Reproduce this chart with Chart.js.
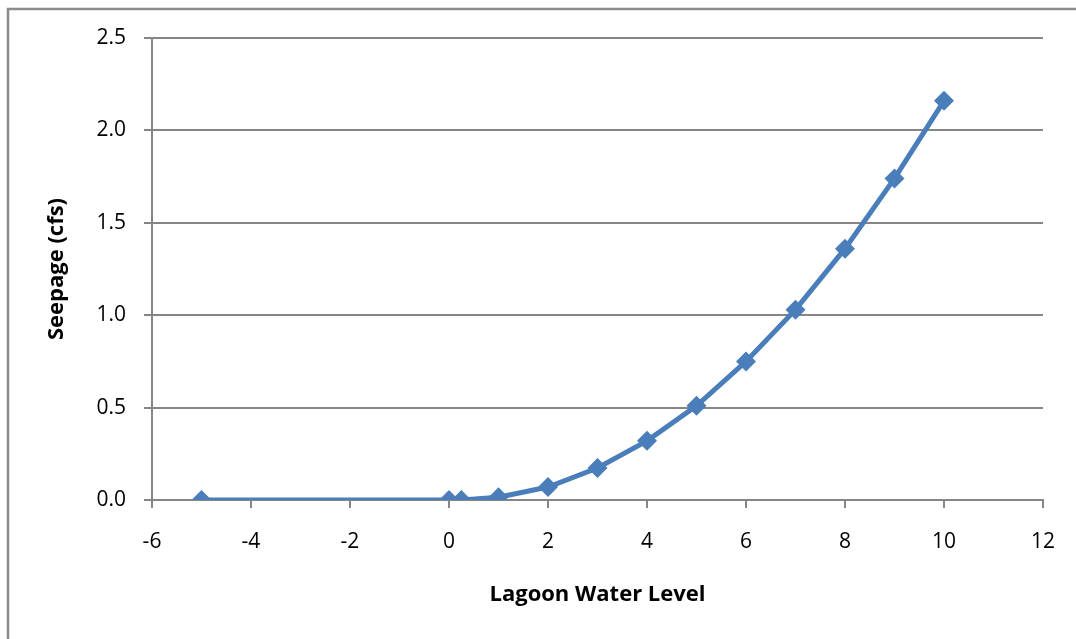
<!DOCTYPE html>
<html>
<head>
<meta charset="utf-8">
<script src="https://cdn.jsdelivr.net/npm/chart.js@4/dist/chart.umd.min.js"></script>
<style>
  html, body { margin: 0; padding: 0; background: #fff; }
  #wrap { width: 1076px; height: 639px; }
</style>
</head>
<body>
<div id="wrap"><canvas id="seepage-chart" width="1076" height="639"></canvas></div>
<script>
const levels = [-5, 0, 0.25, 1, 2, 3, 4, 5, 6, 7, 8, 9, 10];   // lagoon water level
const seepage = [0, 0, 0, 0.015, 0.07, 0.173, 0.32, 0.51, 0.75, 1.03, 1.36, 1.74, 2.16]; // cfs
const xTitle = "Lagoon Water Level";
const yTitle = "Seepage (cfs)";

const points = levels.map((x, i) => ({ x: x, y: seepage[i] }));
const blue = "rgb(74, 126, 187)";
const gridGray = "rgb(134, 134, 134)";

// outer frame like the excel chart border
const framePlugin = {
    id: "frame",
    beforeDraw(chart) {
        const ctx = chart.ctx;
        ctx.save();
        ctx.strokeStyle = "rgb(140, 140, 140)";
        ctx.lineWidth = 2.5;
        ctx.strokeRect(8, 9, 1200, 800);
        ctx.restore();
    }
};

new Chart("seepage-chart", {
    type: "scatter",
    data: {
        datasets: [{
            label: yTitle,
            data: points,
            showLine: true,
            borderColor: blue,
            backgroundColor: blue,
            borderWidth: 5,
            pointStyle: "rectRot",
            pointRadius: 10,
            pointBorderWidth: 0,
            pointHoverRadius: 10
        }]
    },
    options: {
        responsive: false,
        animation: false,
        layout: { padding: { left: 0, right: 27, top: 38, bottom: 0 } },
        plugins: {
            legend: { display: false },
            tooltip: { enabled: false }
        },
        scales: {
            x: {
                type: "linear",
                min: -6,
                max: 12,
                afterFit: (s) => { s.height = 139; },
                ticks: {
                    stepSize: 2,
                    color: "#000",
                    padding: 21,
                    font: { family: "Open Sans", size: 21 }
                },
                grid: {
                    drawOnChartArea: false,
                    drawTicks: true,
                    tickLength: 8,
                    color: gridGray,
                    lineWidth: 2
                },
                border: { color: gridGray, width: 2 },
                title: {
                    display: true,
                    text: xTitle,
                    color: "#000",
                    padding: { top: 0, bottom: 31 },
                    font: { family: "Open Sans", size: 22, weight: "bold" }
                }
            },
            y: {
                min: 0,
                max: 2.5,
                afterFit: (s) => { s.width = 152; },
                ticks: {
                    stepSize: 0.5,
                    color: "#000",
                    padding: 18,
                    font: { family: "Open Sans", size: 21 },
                    callback: (v) => v.toFixed(1)
                },
                grid: {
                    color: gridGray,
                    lineWidth: 2,
                    tickLength: 8
                },
                border: { color: gridGray, width: 2 },
                title: {
                    display: true,
                    text: yTitle,
                    color: "#000",
                    padding: { top: 44, bottom: 0 },
                    font: { family: "Open Sans", size: 22, weight: "bold" }
                }
            }
        }
    },
    plugins: [framePlugin]
});
</script>
</body>
</html>
